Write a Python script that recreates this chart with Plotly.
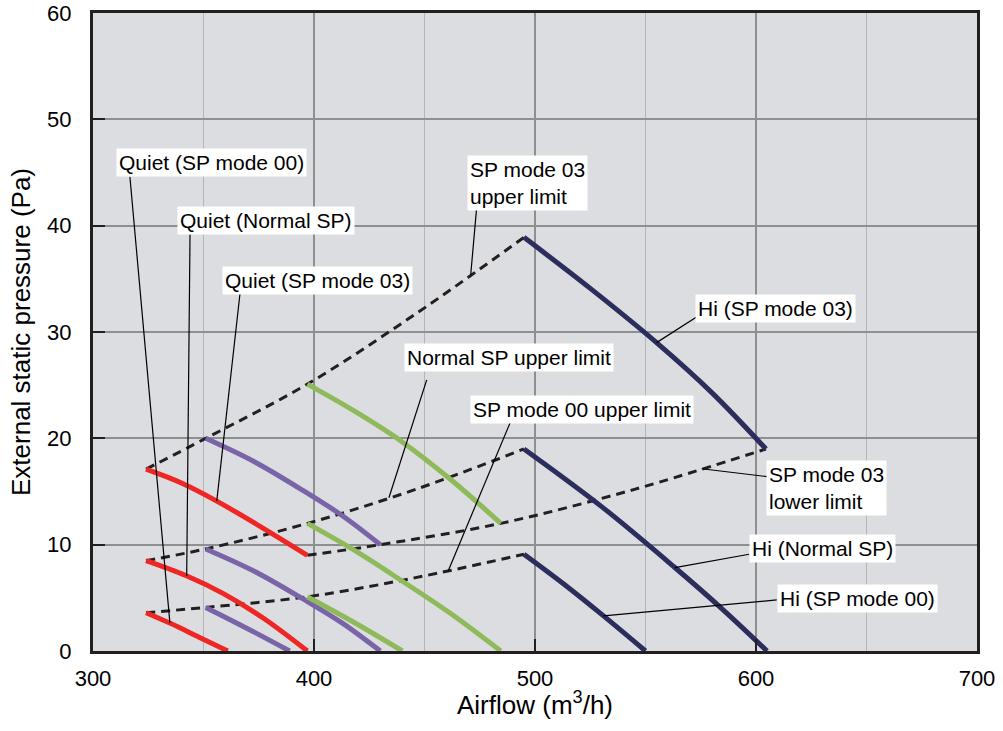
import numpy as np
import plotly.graph_objects as go

# ---- data (airflow m3/h, external static pressure Pa) ----
quiet_00_x = [324, 335, 348, 361]
quiet_00_y = [3.6, 2.6, 1.3, 0]
quiet_normal_x = [324, 342, 359, 377, 397]
quiet_normal_y = [8.5, 7.1, 5.4, 3.1, 0]
quiet_03_x = [324, 340, 356, 375, 397]
quiet_03_y = [17.1, 15.8, 14.1, 11.8, 9.0]

mid_00_x = [351, 370, 389]
mid_00_y = [4.1, 2.1, 0]
mid_normal_x = [351, 373, 395, 413, 430]
mid_normal_y = [9.6, 7.5, 4.9, 2.6, 0]
mid_03_x = [351, 373, 395, 413, 430]
mid_03_y = [20.0, 17.8, 15.1, 12.7, 10.0]

high_00_x = [397, 418, 440]
high_00_y = [5.1, 2.7, 0]
high_normal_x = [397, 418, 439, 462, 484.5]
high_normal_y = [12.0, 9.5, 6.7, 3.5, 0]
high_03_x = [397, 418, 439, 462, 484.5]
high_03_y = [25.1, 22.6, 19.8, 16.1, 12.0]

hi_00_x = [495, 513, 531, 550]
hi_00_y = [9.1, 6.3, 3.3, 0]
hi_normal_x = [495, 530, 563, 585, 605]
hi_normal_y = [19.0, 13.6, 7.9, 3.9, 0]
hi_03_x = [495, 525, 555, 580, 604.5]
hi_03_y = [38.9, 34.1, 29.0, 24.3, 19.0]

# limit lines (dashed)
lim03_up_x = [324, 351, 397, 446, 495]
lim03_up_y = [17.1, 20.0, 25.1, 31.7, 38.9]
limN_up_x = [324, 351, 397, 446, 495]
limN_up_y = [8.5, 9.6, 12.0, 15.2, 19.0]
lim00_up_x = [324, 351, 397, 446, 495]
lim00_up_y = [3.6, 4.1, 5.1, 6.9, 9.1]
lim03_low_x = [397, 430, 484.5, 545, 604.5]
lim03_low_y = [9.0, 10.0, 12.0, 15.2, 19.0]

RED = '#ee2724'
PURPLE = '#7a64a8'
GREEN = '#8fba5c'
NAVY = '#2b2e5c'
DARK = '#231f20'
FONT = 'Liberation Sans, Arial, Helvetica, sans-serif'

series = {
    'q00': (quiet_00_x, quiet_00_y, RED),
    'qN': (quiet_normal_x, quiet_normal_y, RED),
    'q03': (quiet_03_x, quiet_03_y, RED),
    'm00': (mid_00_x, mid_00_y, PURPLE),
    'mN': (mid_normal_x, mid_normal_y, PURPLE),
    'm03': (mid_03_x, mid_03_y, PURPLE),
    'h00': (high_00_x, high_00_y, GREEN),
    'hN': (high_normal_x, high_normal_y, GREEN),
    'h03': (high_03_x, high_03_y, GREEN),
    'H00': (hi_00_x, hi_00_y, NAVY),
    'HN': (hi_normal_x, hi_normal_y, NAVY),
    'H03': (hi_03_x, hi_03_y, NAVY),
}
limits = {
    'u03': (lim03_up_x, lim03_up_y),
    'uN': (limN_up_x, limN_up_y),
    'u00': (lim00_up_x, lim00_up_y),
    'l03': (lim03_low_x, lim03_low_y),
}

# labels: text, series key, airflow on series where leader ends
label_text = ['Quiet (SP mode 00)', 'Quiet (Normal SP)', 'Quiet (SP mode 03)',
              'SP mode 03<br>upper limit', 'Hi (SP mode 03)', 'Normal SP upper limit',
              'SP mode 00 upper limit', 'SP mode 03<br>lower limit',
              'Hi (Normal SP)', 'Hi (SP mode 00)']
label_target = ['q00', 'qN', 'q03', 'u03', 'H03', 'uN', 'u00', 'l03', 'HN', 'H00']
label_target_x = [334.8, 342.4, 356, 470.9, 555, 433.9, 460.8, 575.4, 563.3, 531]
# label placement (left edge, vertical middle) and leader start
label_pos = [(310.4, 45.9), (338.0, 40.5), (358.2, 34.8), (469.1, 44.0), (572.4, 32.2),
             (440.7, 27.6), (470.6, 22.7), (604.5, 15.3), (596.9, 9.6), (609.5, 4.9)]
leader_start = [(316.7, 44.6), (343.9, 39.2), (366.5, 33.6), (473.6, 41.7), (573.1, 31.4),
                (451.0, 25.5), (489.4, 21.8), (605.0, 16.4), (596.9, 9.1), (609.4, 4.8)]

fig = go.Figure()

for key, (x, y) in limits.items():
    fig.add_trace(go.Scatter(x=x, y=y, mode='lines', line_shape='spline',
                             line=dict(color=DARK, width=3, dash='9px,6px'),
                             hoverinfo='skip', showlegend=False))

for key, (x, y, c) in series.items():
    fig.add_trace(go.Scatter(x=x, y=y, mode='lines', line_shape='spline',
                             line=dict(color=c, width=5),
                             hoverinfo='skip', showlegend=False))

all_curves = {k: (v[0], v[1]) for k, v in series.items()}
all_curves.update(limits)

shapes = []
annotations = []
for txt, key, tx, (lx, ly), (sx, sy) in zip(label_text, label_target, label_target_x,
                                          label_pos, leader_start):
    cx, cy = all_curves[key]
    ty = float(np.interp(tx, cx, cy))
    shapes.append(dict(type='line', xref='x', yref='y', x0=sx, y0=sy, x1=tx, y1=ty,
                       line=dict(color='black', width=1.2), layer='above'))
    annotations.append(dict(x=lx, y=ly, xref='x', yref='y', text=txt, showarrow=False,
                            xanchor='left', yanchor='middle', align='left',
                            bgcolor='white', borderpad=2,
                            font=dict(family=FONT, size=21, color='black')))

# axis titles
annotations.append(dict(xref='paper', yref='paper', x=0, y=0.5, xshift=-72,
                        text='External static pressure (Pa)', textangle=-90,
                        showarrow=False, xanchor='center', yanchor='middle',
                        font=dict(family=FONT, size=26, color='black')))
annotations.append(dict(xref='paper', yref='paper', x=0.5, y=0, yshift=-52,
                        text='Airflow (m<sup>3</sup>/h)', showarrow=False,
                        xanchor='center', yanchor='middle',
                        font=dict(family=FONT, size=26, color='black')))

fig.update_layout(
    width=1003, height=731,
    margin=dict(l=93, r=26, t=13, b=80, autoexpand=False),
    paper_bgcolor='white', plot_bgcolor='#dcdde0',
    font=dict(family=FONT, size=21, color='black'),
    shapes=shapes, annotations=annotations,
    xaxis=dict(range=[300, 700], dtick=100, tick0=300, automargin=False,
               showgrid=True, gridcolor='#8e8f91', gridwidth=1.5,
               minor=dict(dtick=50, showgrid=True, gridcolor='#b4b5b7', gridwidth=1.2),
               showline=True, linecolor=DARK, linewidth=3, mirror=True,
               ticks='inside', ticklen=12, tickwidth=2, tickcolor=DARK,
               ticklabelstandoff=6, zeroline=False, ticklabeloverflow='allow',
               tickfont=dict(family=FONT, size=22)),
    yaxis=dict(range=[0, 60], dtick=10, automargin=False,
               showgrid=True, gridcolor='#8e8f91', gridwidth=1.5,
               showline=True, linecolor=DARK, linewidth=3, mirror=True,
               ticks='inside', ticklen=12, tickwidth=2, tickcolor=DARK,
               ticklabelstandoff=14, zeroline=False, ticklabeloverflow='allow',
               tickfont=dict(family=FONT, size=22)),
)

# drop the default 8px page margin so the figure fills the window
fig.write_html("out.html", config={'displayModeBar': False},
               post_script="document.body.style.margin='0';")
